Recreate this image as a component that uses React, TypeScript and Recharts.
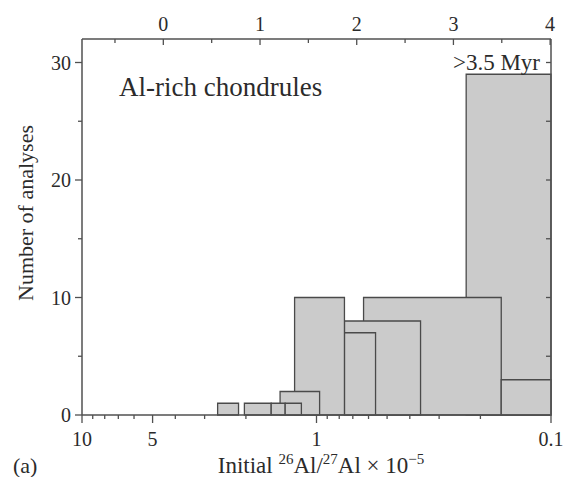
import { ComposedChart, XAxis, YAxis, ReferenceArea, Scatter } from "recharts";

// histogram boxes: left edge (higher ratio), right edge (lower ratio), count
// listed in drawing order, later ones overlap earlier ones
const binHigh = [0.23, 0.63, 0.163, 0.76, 0.76, 1.24, 1.43, 2.64, 2.03, 1.56, 1.36];
const binLow = [0.1, 0.163, 0.1, 0.36, 0.56, 0.76, 0.97, 2.15, 1.56, 1.36, 1.16];
const counts = [29, 10, 3, 8, 7, 10, 2, 1, 1, 1, 1];

// bottom axis: initial 26Al/27Al (x 10^-5), log scale
const ratioTicks = [10, 9, 8, 7, 6, 5, 4, 3, 2, 1, 0.9, 0.8, 0.7, 0.6, 0.5, 0.4, 0.3, 0.2, 0.1];
const ratioLabels = [10, 5, 1, 0.1];

// top axis: time after CAI formation (Myr)
const timeTicks = [-0.5, 0, 0.5, 1, 1.5, 2, 2.5, 3, 3.5, 4];
const canonicalRatio = 4.5;
const halfLife = 0.73;

const countTicks = [0, 5, 10, 15, 20, 25, 30];
const countLabels = [0, 10, 20, 30];

const lambda = Math.LN2 / halfLife;
const timeToRatio = (t: number) => canonicalRatio * Math.exp(-lambda * t);
const ratioToTime = (r: number) => Math.log(canonicalRatio / r) / lambda;

const ink = "#2b2b2b";
const axisColor = "#505050";
const font = "'Liberation Serif', 'Times New Roman', serif";

const points = counts.map((c, i) => ({ ratio: Math.sqrt(binHigh[i] * binLow[i]), count: c }));

const BottomTick = (props: any) => {
  const { x, y, payload } = props;
  const major = ratioLabels.some((v) => Math.abs(v - payload.value) < 1e-6);
  return (
    <g>
      <line x1={x} y1={y} x2={x} y2={y + (major ? 8 : 4)} stroke={axisColor} strokeWidth={1.3} />
      {major && (
        <text x={x} y={y + 31} textAnchor="middle" fontSize={20} fontFamily={font} fill={ink}>
          {payload.value}
        </text>
      )}
    </g>
  );
};

const TopTick = (props: any) => {
  const { x, y, payload } = props;
  const t = ratioToTime(payload.value);
  const major = Math.abs(t - Math.round(t)) < 0.05;
  return (
    <g>
      <line x1={x} y1={y} x2={x} y2={y + (major ? 6 : 4)} stroke={axisColor} strokeWidth={1.3} />
      {major && (
        <text x={x} y={y - 8} textAnchor="middle" fontSize={20} fontFamily={font} fill={ink}>
          {Math.round(t)}
        </text>
      )}
    </g>
  );
};

const LeftTick = (props: any) => {
  const { x, y, payload } = props;
  const major = countLabels.includes(payload.value);
  return (
    <g>
      <line x1={x - (major ? 7 : 4)} y1={y} x2={x} y2={y} stroke={axisColor} strokeWidth={1.3} />
      {major && (
        <text x={x - 11} y={y + 7} textAnchor="end" fontSize={20} fontFamily={font} fill={ink}>
          {payload.value}
        </text>
      )}
    </g>
  );
};

const RightTick = (props: any) => {
  const { x, y, payload } = props;
  if (payload.value === 0) return <g />;
  return <line x1={x - 5} y1={y} x2={x} y2={y} stroke={axisColor} strokeWidth={1.3} />;
};

export default function App() {
  return (
    <div style={{ position: "absolute", left: 0, top: 0, width: 566, height: 477, background: "#fff" }}>
      <ComposedChart
        width={566}
        height={477}
        data={points}
        margin={{ top: 9, right: 10, bottom: 22, left: 22 }}
      >
        <XAxis
          xAxisId="ratio"
          dataKey="ratio"
          type="number"
          scale="log"
          domain={[0.1, 10]}
          allowDataOverflow
          reversed
          ticks={ratioTicks}
          interval={0}
          tickSize={0}
          tickMargin={0}
          height={40}
          axisLine={{ stroke: axisColor, strokeWidth: 1.5 }}
          tickLine={false}
          tick={<BottomTick />}
        />
        <XAxis
          xAxisId="time"
          orientation="top"
          dataKey="ratio"
          type="number"
          scale="log"
          domain={[0.1, 10]}
          allowDataOverflow
          reversed
          ticks={timeTicks.map(timeToRatio)}
          interval={0}
          tickSize={0}
          tickMargin={0}
          height={30}
          axisLine={{ stroke: axisColor, strokeWidth: 1.5 }}
          tickLine={false}
          tick={<TopTick />}
        />
        <YAxis
          yAxisId="count"
          type="number"
          domain={[0, 32]}
          allowDataOverflow
          ticks={countTicks}
          interval={0}
          tickSize={0}
          tickMargin={0}
          width={60}
          axisLine={{ stroke: axisColor, strokeWidth: 1.5 }}
          tickLine={false}
          tick={<LeftTick />}
        />
        <YAxis
          yAxisId="right"
          orientation="right"
          type="number"
          domain={[0, 32]}
          allowDataOverflow
          ticks={countTicks}
          interval={0}
          tickSize={0}
          tickMargin={0}
          width={5}
          axisLine={{ stroke: axisColor, strokeWidth: 1.5 }}
          tickLine={false}
          tick={<RightTick />}
        />
        {counts.map((c, i) => (
          <ReferenceArea
            key={i}
            xAxisId="ratio"
            yAxisId="count"
            x1={binHigh[i]}
            x2={binLow[i]}
            y1={0}
            y2={c}
            fill="#cbcbcb"
            fillOpacity={1}
            stroke="#4a4a4a"
            strokeWidth={1.3}
          />
        ))}
        <Scatter
          xAxisId="ratio"
          yAxisId="count"
          dataKey="count"
          fill="none"
          stroke="none"
          isAnimationActive={false}
        />
      </ComposedChart>
      <svg
        width={566}
        height={477}
        style={{ position: "absolute", left: 0, top: 0, pointerEvents: "none" }}
        fontFamily={font}
        fill={ink}
      >
        <text x={119} y={96} fontSize={27}>Al-rich chondrules</text>
        <text x={540} y={70} fontSize={23} textAnchor="end">&gt;3.5 Myr</text>
        <text x={25} y={213} fontSize={22} textAnchor="middle" transform="rotate(-90 25 213)" dy={8}>
          Number of analyses
        </text>
        <text x={13} y={473} fontSize={22}>(a)</text>
        <text x={321} y={473} fontSize={23} textAnchor="middle">
          Initial <tspan fontSize={15} dy={-9}>26</tspan>
          <tspan dy={9}>Al/</tspan>
          <tspan fontSize={15} dy={-9}>27</tspan>
          <tspan dy={9}>Al × 10</tspan>
          <tspan fontSize={15} dy={-9}>−5</tspan>
        </text>
      </svg>
    </div>
  );
}
